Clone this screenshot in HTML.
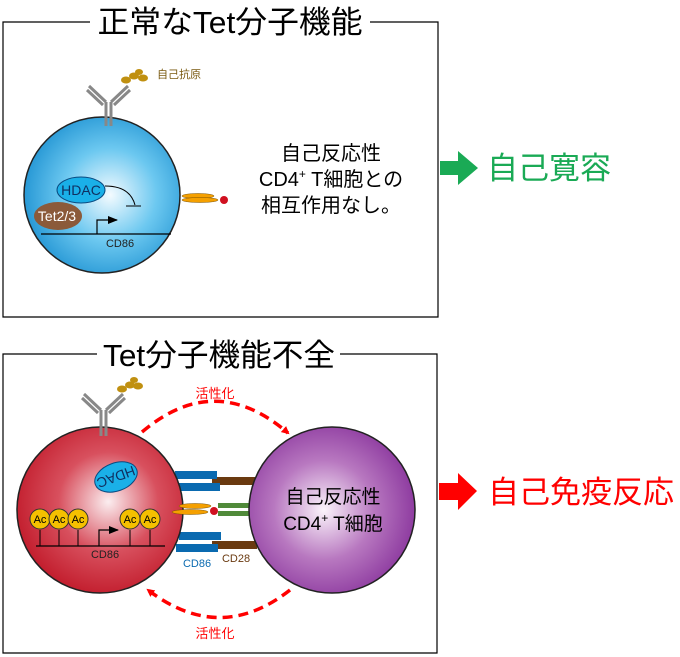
<!DOCTYPE html>
<html><head><meta charset="utf-8"><style>
html,body{margin:0;padding:0;background:#fff}
svg{display:block}
text{font-family:"Liberation Sans","Noto Sans CJK JP",sans-serif}
</style></head><body>
<svg width="680" height="657" viewBox="0 0 680 657" xmlns="http://www.w3.org/2000/svg">
<defs>
<radialGradient id="gb" cx="0.55" cy="0.5" r="0.6"><stop offset="0" stop-color="#f4fbff"/><stop offset="0.5" stop-color="#6cc8f0"/><stop offset="1" stop-color="#1a8fd0"/></radialGradient>
<radialGradient id="gr" cx="0.55" cy="0.45" r="0.6"><stop offset="0" stop-color="#fbeef0"/><stop offset="0.5" stop-color="#d8505e"/><stop offset="1" stop-color="#c01828"/></radialGradient>
<radialGradient id="gp" cx="0.45" cy="0.5" r="0.6"><stop offset="0" stop-color="#fbf4fb"/><stop offset="0.5" stop-color="#b878c0"/><stop offset="1" stop-color="#86309a"/></radialGradient>
<marker id="ah" markerWidth="8" markerHeight="8" refX="6" refY="4" orient="auto" markerUnits="userSpaceOnUse"><path d="M0,0 L8,4 L0,8 z" fill="#f00"/></marker>
<marker id="ab" markerWidth="10" markerHeight="10" refX="9" refY="5" orient="auto" markerUnits="userSpaceOnUse"><path d="M0,1 L10,5 L0,9 z" fill="#000"/></marker>
</defs>

<!-- Box 1 -->
<path d="M90,22 H3 V317 H438 V22 H370" fill="none" stroke="#000" stroke-width="1.2"/>
<text x="230" y="33" font-size="31" text-anchor="middle" textLength="265" lengthAdjust="spacingAndGlyphs">正常なTet分子機能</text>

<circle cx="102" cy="195" r="78" fill="url(#gb)" stroke="#222" stroke-width="1.5"/>
<g stroke="#888" stroke-width="3" fill="none">
<path d="M106,126 V102 M111,126 V102 M106,102 L89,86 M111,102 L128,86 M103,105 L87,90 M114,105 L130,90"/>
</g>
<g fill="#c09010"><ellipse cx="126" cy="80" rx="5" ry="3.5"/><ellipse cx="134" cy="76" rx="5" ry="3.5"/><ellipse cx="139" cy="72" rx="4" ry="3"/><ellipse cx="143" cy="78" rx="5" ry="3.5"/></g>
<text x="157" y="78" font-size="11" fill="#7a5a10">自己抗原</text>
<ellipse cx="81" cy="190" rx="24" ry="13" fill="#1ab0e8" stroke="#0a4a80" stroke-width="1"/>
<text x="81" y="195" font-size="14" text-anchor="middle" fill="#103060">HDAC</text>
<path d="M105,186 Q130,186 135,205" fill="none" stroke="#000" stroke-width="1"/>
<path d="M126,206 H141" stroke="#000" stroke-width="1"/>
<ellipse cx="58" cy="216" rx="24" ry="14" fill="#8b5a3a"/>
<text x="57" y="221" font-size="14" text-anchor="middle" fill="#fff">Tet2/3</text>
<path d="M41,234 H171" stroke="#000" stroke-width="1.2"/>
<path d="M97,234 V220 H117" fill="none" stroke="#000" stroke-width="1.2" marker-end="url(#ab)"/>
<text x="120" y="247" font-size="11" text-anchor="middle" fill="#222">CD86</text>
<g fill="#f5a000" stroke="#7a5000" stroke-width="0.5"><ellipse cx="198" cy="196" rx="16" ry="2.5"/><ellipse cx="200" cy="200" rx="18" ry="2.5"/></g>
<circle cx="224" cy="200" r="4" fill="#d01020"/>
<text x="331" y="160" font-size="20" text-anchor="middle">自己反応性</text>
<text x="331" y="186" font-size="20" text-anchor="middle">CD4<tspan font-size="12" dy="-8">+</tspan><tspan dy="8"> T細胞との</tspan></text>
<text x="331" y="212" font-size="20" text-anchor="middle">相互作用なし。</text>
<path d="M440,161 H458 V151 L478,168 L458,185 V175 H440 z" fill="#1aaa55"/>
<text x="487" y="179" font-size="31" fill="#1aaa55">自己寛容</text>

<!-- Box 2 -->
<path d="M97,354 H3 V653 H437 V354 H340" fill="none" stroke="#000" stroke-width="1.2"/>
<text x="219" y="366" font-size="31" text-anchor="middle" textLength="232" lengthAdjust="spacingAndGlyphs">Tet分子機能不全</text>

<path d="M142,432 Q215,370 288,433" fill="none" stroke="#f00" stroke-width="3.5" stroke-dasharray="10,6" marker-end="url(#ah)"/>
<text x="215" y="398" font-size="13" text-anchor="middle" fill="#f00">活性化</text>
<path d="M290,590 Q220,645 148,590" fill="none" stroke="#f00" stroke-width="3.5" stroke-dasharray="10,6" marker-end="url(#ah)"/>
<text x="215" y="638" font-size="13" text-anchor="middle" fill="#f00">活性化</text>

<g fill="#6a3a10"><rect x="212" y="477" width="45" height="8"/><rect x="212" y="541" width="45" height="8"/></g>
<g fill="#0a6ab0"><rect x="175" y="471" width="42" height="8"/><rect x="178" y="483" width="42" height="8"/><rect x="179" y="532" width="42" height="8"/><rect x="176" y="544" width="42" height="8"/></g>
<g fill="#508a3a"><rect x="218" y="503" width="36" height="5"/><rect x="218" y="511" width="36" height="5"/></g>

<circle cx="100" cy="510" r="83" fill="url(#gr)" stroke="#222" stroke-width="1.5"/>
<circle cx="332" cy="510" r="83" fill="url(#gp)" stroke="#222" stroke-width="1.5"/>
<text x="333" y="503" font-size="19" text-anchor="middle">自己反応性</text>
<text x="333" y="530" font-size="19" text-anchor="middle">CD4<tspan font-size="12" dy="-8">+</tspan><tspan dy="8"> T細胞</tspan></text>

<g fill="#f5a000" stroke="#7a5000" stroke-width="0.5"><ellipse cx="195" cy="506" rx="16" ry="2.5"/><ellipse cx="190" cy="512" rx="18" ry="2.5"/></g>
<circle cx="214" cy="511" r="4" fill="#d01020"/>
<text x="197" y="567" font-size="11" text-anchor="middle" fill="#0a6ab0">CD86</text>
<text x="236" y="562" font-size="11" text-anchor="middle" fill="#6a3a10">CD28</text>

<g stroke="#888" stroke-width="3" fill="none">
<path d="M101,436 V410 M106,436 V410 M101,410 L84,394 M106,410 L123,394 M98,413 L82,398 M109,413 L125,398"/>
</g>
<g fill="#c09010"><ellipse cx="122" cy="389" rx="5" ry="3.5"/><ellipse cx="130" cy="385" rx="5" ry="3.5"/><ellipse cx="134" cy="380" rx="4" ry="3"/><ellipse cx="138" cy="386" rx="5" ry="3.5"/></g>

<ellipse cx="116" cy="477" rx="22" ry="14" transform="rotate(-20 116 477)" fill="#1ab0e8" stroke="#0a4a80" stroke-width="1"/>
<text x="116" y="482" font-size="14" text-anchor="middle" fill="#103060" transform="rotate(160 116 477)">HDAC</text>

<path d="M36,546 H165" stroke="#000" stroke-width="1.2"/>
<g stroke="#000" stroke-width="1"><path d="M40,530 V546 M59,530 V546 M78,530 V546 M130,530 V546 M150,530 V546"/></g>
<path d="M99,546 V530 H118" fill="none" stroke="#000" stroke-width="1.2" marker-end="url(#ab)"/>
<g fill="#f5c000" stroke="#333" stroke-width="1">
<circle cx="40" cy="519" r="10"/><circle cx="59" cy="519" r="10"/><circle cx="78" cy="519" r="10"/><circle cx="130" cy="519" r="10"/><circle cx="150" cy="519" r="10"/></g>
<g font-size="11" text-anchor="middle"><text x="40" y="523">Ac</text><text x="59" y="523">Ac</text><text x="78" y="523">Ac</text><text x="130" y="523">Ac</text><text x="150" y="523">Ac</text></g>
<text x="105" y="558" font-size="11" text-anchor="middle" fill="#222">CD86</text>

<path d="M439,483 H458 V473 L477,491 L458,510 V500 H439 z" fill="#f00"/>
<text x="488" y="503" font-size="31" fill="#f00">自己免疫反応</text>
</svg>
</body></html>
